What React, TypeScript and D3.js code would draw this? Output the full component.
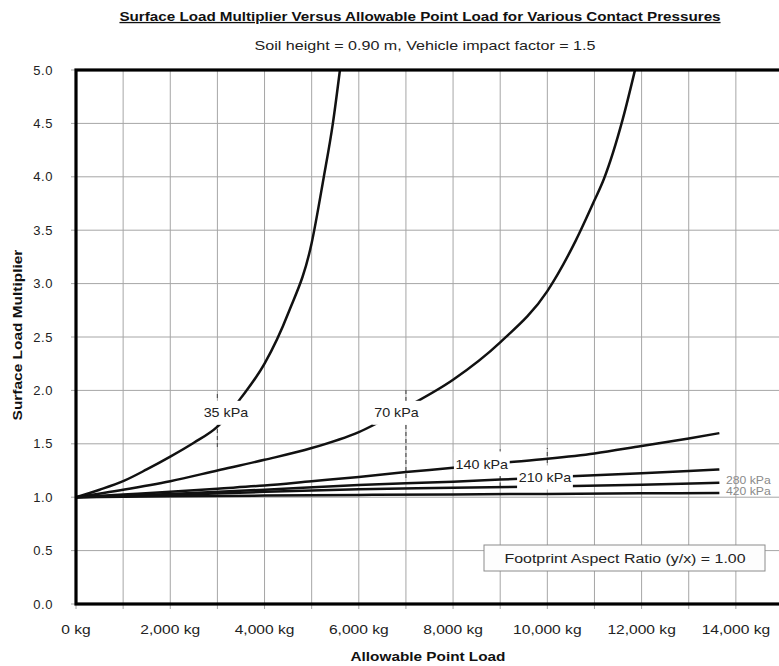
import React from "react";
import * as d3 from "d3";

// Allowable point load (kg) and the resulting surface load multiplier, per contact pressure
const loads35 = [0, 500, 1000, 1500, 2000, 2500, 3000, 3500, 4000, 4500, 5000, 5250, 5450, 5600];
const mult35 = [1.0, 1.07, 1.15, 1.26, 1.38, 1.51, 1.66, 1.93, 2.25, 2.72, 3.38, 3.98, 4.5, 5.0];

const loads70 = [0, 1000, 2000, 3000, 4000, 5000, 6000, 7000, 8000, 9000, 10000, 10600, 11000, 11200, 11600, 11860];
const mult70 = [1.0, 1.07, 1.15, 1.25, 1.35, 1.46, 1.61, 1.84, 2.1, 2.45, 2.93, 3.4, 3.78, 3.98, 4.54, 5.0];

const loads140 = [0, 1000, 2000, 3000, 4000, 5000, 6000, 7000, 8000, 9000, 10000, 11000, 12000, 13000, 13650];
const mult140 = [1.0, 1.025, 1.05, 1.08, 1.11, 1.15, 1.19, 1.235, 1.275, 1.32, 1.36, 1.41, 1.48, 1.55, 1.6];

const loads210 = [0, 2000, 4000, 6000, 8000, 9000, 10000, 11000, 12000, 13000, 13650];
const mult210 = [1.0, 1.03, 1.07, 1.115, 1.145, 1.165, 1.185, 1.205, 1.225, 1.245, 1.26];

const loads280 = [0, 2000, 4000, 6000, 8000, 10000, 12000, 13650];
const mult280 = [1.0, 1.02, 1.05, 1.075, 1.088, 1.1, 1.117, 1.135];

const loads420 = [0, 2000, 4000, 6000, 8000, 10000, 12000, 13650];
const mult420 = [1.0, 1.008, 1.015, 1.021, 1.026, 1.031, 1.036, 1.04];

const pressureLabels = ["35 kPa", "70 kPa", "140 kPa", "210 kPa", "280 kPa", "420 kPa"];
// where each curve label sits, in data units (load, multiplier)
const labelLoads = [3180, 6800, 8610, 9950, 14300, 14300];
const labelMults = [1.79, 1.79, 1.31, 1.185, 1.155, 1.05];

// short dashed markers on the grid near the curve labels: load, from, to
const markerLoads = [3000, 7000, 9000, 9000, 10000];
const markerFrom = [1.47, 1.18, 1.37, 1.1, 1.32];
const markerTo = [1.98, 2.02, 1.45, 1.2, 1.46];

const xTicks = [0, 2000, 4000, 6000, 8000, 10000, 12000, 14000];
const yTicks = [0, 0.5, 1.0, 1.5, 2.0, 2.5, 3.0, 3.5, 4.0, 4.5, 5.0];

const title = "Surface Load Multiplier Versus Allowable Point Load for Various Contact Pressures";
const subtitle = "Soil height = 0.90 m,  Vehicle impact factor = 1.5";
const xTitle = "Allowable Point Load";
const yTitle = "Surface Load Multiplier";
const noteText = "Footprint Aspect Ratio (y/x) = 1.00";

const W = 779;
const H = 666;
const FONT = "'Liberation Sans', Arial, sans-serif";

// text drawn with a slight horizontal stretch, as the chart's lettering is wide
function Wide({
  x,
  y,
  sx = 1.18,
  rotate = 0,
  anchor = "middle",
  size = 13,
  weight = "normal",
  fill = "#222",
  underline = false,
  children,
}: {
  x: number;
  y: number;
  sx?: number;
  rotate?: number;
  anchor?: string;
  size?: number;
  weight?: string;
  fill?: string;
  underline?: boolean;
  children: React.ReactNode;
}) {
  return (
    <g transform={`translate(${x},${y}) rotate(${rotate}) scale(${sx},1)`}>
      <text
        x={0}
        y={0}
        fontSize={size}
        fontWeight={weight}
        textAnchor={anchor}
        fill={fill}
        style={underline ? { textDecoration: "underline" } : undefined}
      >
        {children}
      </text>
    </g>
  );
}

export default function App() {
  const x = d3.scaleLinear().domain([0, 15000]).range([76, 783]);
  const y = d3.scaleLinear().domain([0, 5]).range([604, 70]);

  const series = [
    [loads35, mult35],
    [loads70, mult70],
    [loads140, mult140],
    [loads210, mult210],
    [loads280, mult280],
    [loads420, mult420],
  ];

  const line = d3
    .line<[number, number]>()
    .x((d) => x(d[0]))
    .y((d) => y(d[1]))
    .curve(d3.curveMonotoneX);

  const gridX = d3.range(0, 15001, 1000);
  const fmtY = d3.format(".1f");
  const fmtX = (v: number) => `${d3.format(",")(v)} kg`;

  return (
    <svg
      width={W}
      height={H}
      style={{ position: "fixed", left: 0, top: 0, background: "#fff" }}
      fontFamily={FONT}
    >
      <rect x={0} y={0} width={W} height={H} fill="#fff" />

      {/* grid */}
      <g stroke="#a6a6a6" strokeWidth={1}>
        {gridX.map((v) => (
          <line key={"gx" + v} x1={x(v)} x2={x(v)} y1={y(5)} y2={y(0) + 5} />
        ))}
        {yTicks.map((v) => (
          <line key={"gy" + v} x1={x(0) - 5} x2={x(15000)} y1={y(v)} y2={y(v)} />
        ))}
      </g>

      {/* dashed markers */}
      <g stroke="#555" strokeWidth={1.2} strokeDasharray="4,3">
        {markerLoads.map((v, i) => (
          <line key={"m" + i} x1={x(v)} x2={x(v)} y1={y(markerFrom[i])} y2={y(markerTo[i])} />
        ))}
      </g>

      {/* curves */}
      <g fill="none" stroke="#111" strokeWidth={2.5} strokeLinejoin="round">
        {series.map(([xs, ys], i) => (
          <path key={"s" + i} d={line(xs.map((v, j) => [v, ys[j]] as [number, number])) || ""} />
        ))}
      </g>

      {/* curve labels */}
      {pressureLabels.map((t, i) => {
        const cx = x(labelLoads[i]);
        const cy = y(labelMults[i]);
        if (i >= 4) {
          return (
            <Wide key={"l" + i} x={cx - 24} y={cy + 3.5} size={10} sx={1.22} anchor="start" fill="#8a8a8a">
              {t}
            </Wide>
          );
        }
        const w = t.length * 7.4 + 4;
        return (
          <g key={"l" + i}>
            <rect x={cx - w / 2} y={cy - 12} width={w} height={24} fill="#fff" />
            <Wide x={cx} y={cy + 4.5} size={13} sx={1.1}>
              {t}
            </Wide>
          </g>
        );
      })}

      {/* frame */}
      <rect
        x={x(0)}
        y={y(5)}
        width={x(15000) - x(0)}
        height={y(0) - y(5)}
        fill="none"
        stroke="#000"
        strokeWidth={3.2}
      />

      {/* y axis labels */}
      {yTicks.map((v) => (
        <text
          key={"ty" + v}
          x={53}
          y={y(v) + 4.5}
          fontSize={13}
          textAnchor="end"
          fill="#222"
          letterSpacing={0.6}
        >
          {fmtY(v)}
        </text>
      ))}

      {/* x axis labels */}
      {xTicks.map((v) => (
        <Wide key={"tx" + v} x={x(v)} y={634} size={13} sx={1.2}>
          {fmtX(v)}
        </Wide>
      ))}

      {/* titles */}
      <Wide x={420} y={21} size={13} sx={1.17} weight="bold" fill="#111" underline>
        {title}
      </Wide>
      <Wide x={425} y={50} size={13} sx={1.24}>
        {subtitle}
      </Wide>
      <Wide x={428} y={661} size={13} sx={1.18} weight="bold" fill="#111">
        {xTitle}
      </Wide>
      <Wide x={22} y={335} rotate={-90} size={13} sx={1.19} weight="bold" fill="#111">
        {yTitle}
      </Wide>

      {/* note box */}
      <rect x={484} y={545} width={281} height={26} fill="#fdfdfd" stroke="#8c8c8c" strokeWidth={1} />
      <Wide x={625} y={563} size={13.5} sx={1.18}>
        {noteText}
      </Wide>
    </svg>
  );
}
